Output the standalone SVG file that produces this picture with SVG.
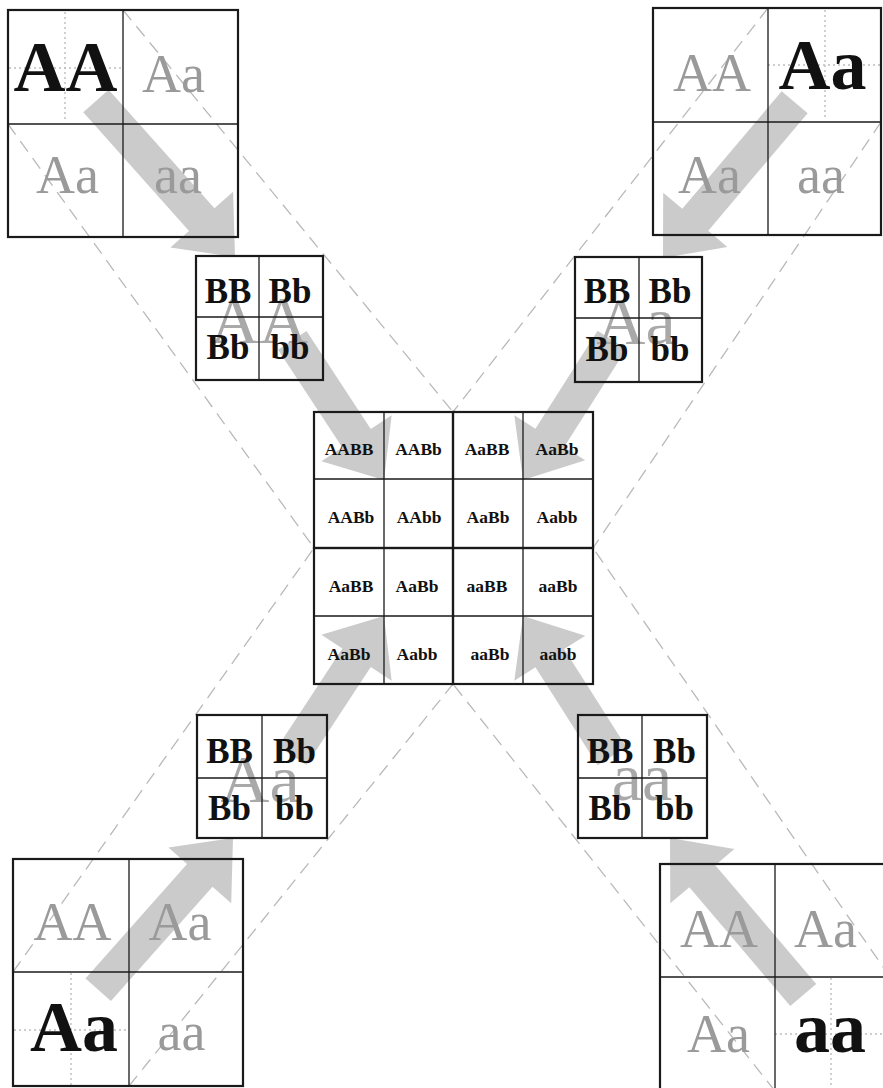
<svg xmlns="http://www.w3.org/2000/svg" width="883" height="1088" viewBox="0 0 883 1088">
  <style>
    .arrow { fill: #cbcbcb; }
    .guide { fill: none; stroke: #b9b9b9; stroke-width: 1.3; stroke-dasharray: 13 8; }
    .dot { fill: none; stroke: #bdbdbd; stroke-width: 1.4; stroke-dasharray: 2 3; }
    .frame { fill: none; stroke: #1a1a1a; stroke-width: 2.2; }
    .div { fill: none; stroke: #1a1a1a; stroke-width: 1.3; }
    .serif { font-family: "Liberation Serif", "Times New Roman", serif; text-anchor: middle; }
    .pale { font-size: 54px; fill: #9a9a9a; }
    .strong { font-size: 72px; font-weight: bold; fill: #111; }
    .ghost { font-size: 68px; fill: #a9a9a9; }
    .gam { font-size: 35px; font-weight: bold; fill: #111; }
    .cell { font-size: 17.5px; font-weight: bold; fill: #111; }
  </style>

  <rect width="883" height="1088" fill="#fff"/>

  <!-- thick gray arrows: tip at the origin, pointing along +x -->
  <g id="arrows">
    <polygon class="arrow" transform="translate(235,257) rotate(48.3)" points="0,0 -50,-42 -50,-17 -209,-17 -209,17 -50,17 -50,42"/>
    <polygon class="arrow" transform="translate(384,480) rotate(56.7)" points="0,0 -50,-42 -50,-17 -167,-17 -167,17 -50,17 -50,42"/>
    <polygon class="arrow" transform="translate(663,258) rotate(130.2)" points="0,0 -50,-42 -50,-17 -204,-17 -204,17 -50,17 -50,42"/>
    <polygon class="arrow" transform="translate(523,480) rotate(122.4)" points="0,0 -50,-42 -50,-17 -166,-17 -166,17 -50,17 -50,42"/>
    <polygon class="arrow" transform="translate(233,838) rotate(-48.4)" points="0,0 -50,-42 -50,-17 -203,-17 -203,17 -50,17 -50,42"/>
    <polygon class="arrow" transform="translate(384,616) rotate(-56.7)" points="0,0 -50,-42 -50,-17 -167,-17 -167,17 -50,17 -50,42"/>
    <polygon class="arrow" transform="translate(670,838) rotate(-130.3)" points="0,0 -50,-42 -50,-17 -206,-17 -206,17 -50,17 -50,42"/>
    <polygon class="arrow" transform="translate(523,616) rotate(-122.4)" points="0,0 -50,-42 -50,-17 -166,-17 -166,17 -50,17 -50,42"/>
  </g>

  <!-- dashed projection lines -->
  <g id="guides">
    <line class="guide" x1="123" y1="10" x2="453" y2="412"/>
    <line class="guide" x1="8" y1="124" x2="314" y2="548"/>
    <line class="guide" x1="768" y1="8" x2="453" y2="412"/>
    <line class="guide" x1="881" y1="122" x2="593" y2="548"/>
    <line class="guide" x1="13" y1="972" x2="314" y2="548"/>
    <line class="guide" x1="129" y1="1086" x2="453" y2="684"/>
    <line class="guide" x1="890" y1="977" x2="593" y2="548"/>
    <line class="guide" x1="775" y1="1091" x2="453" y2="684"/>
  </g>

  <!-- parent squares -->
  <g id="parent-tl">
    <line class="dot" x1="65" y1="12" x2="65" y2="122"/>
    <line class="dot" x1="9" y1="68" x2="123" y2="68"/>
    <rect class="frame" x="8" y="10" width="230" height="227"/>
    <line class="div" x1="123" y1="10" x2="123" y2="237"/>
    <line class="div" x1="8" y1="124" x2="238" y2="124"/>
    <text class="serif strong" x="65.5" y="91">AA</text>
    <text class="serif pale" x="173.5" y="92">Aa</text>
    <text class="serif pale" x="67.5" y="193">Aa</text>
    <text class="serif pale" x="178" y="193">aa</text>
  </g>

  <g id="parent-tr">
    <line class="dot" x1="825" y1="10" x2="825" y2="120"/>
    <line class="dot" x1="768" y1="65" x2="880" y2="65"/>
    <rect class="frame" x="653" y="8" width="228" height="227"/>
    <line class="div" x1="768" y1="8" x2="768" y2="235"/>
    <line class="div" x1="653" y1="122" x2="881" y2="122"/>
    <text class="serif pale" x="712" y="91">AA</text>
    <text class="serif strong" x="822.5" y="89">Aa</text>
    <text class="serif pale" x="709.5" y="193">Aa</text>
    <text class="serif pale" x="821" y="193">aa</text>
  </g>

  <g id="parent-bl">
    <line class="dot" x1="71" y1="973" x2="71" y2="1085"/>
    <line class="dot" x1="14" y1="1030" x2="129" y2="1030"/>
    <rect class="frame" x="13" y="859" width="230" height="227"/>
    <line class="div" x1="129" y1="859" x2="129" y2="1086"/>
    <line class="div" x1="13" y1="972" x2="243" y2="972"/>
    <text class="serif pale" x="72.5" y="940">AA</text>
    <text class="serif pale" x="180" y="940">Aa</text>
    <text class="serif strong" x="74" y="1051">Aa</text>
    <text class="serif pale" x="181.5" y="1050">aa</text>
  </g>

  <g id="parent-br">
    <line class="dot" x1="831" y1="978" x2="831" y2="1088"/>
    <line class="dot" x1="775" y1="1034" x2="883" y2="1034"/>
    <rect class="frame" x="660" y="864" width="230" height="227"/>
    <line class="div" x1="775" y1="864" x2="775" y2="1091"/>
    <line class="div" x1="660" y1="977" x2="890" y2="977"/>
    <text class="serif pale" x="719" y="947">AA</text>
    <text class="serif pale" x="825.5" y="947">Aa</text>
    <text class="serif pale" x="718.5" y="1052">Aa</text>
    <text class="serif strong" x="830" y="1052">aa</text>
  </g>

  <!-- gamete squares -->
  <g id="gamete-tl">
    <text class="serif ghost" x="259" y="343">AA</text>
    <rect class="frame" x="196" y="256" width="127" height="124"/>
    <line class="div" x1="259" y1="256" x2="259" y2="380"/>
    <line class="div" x1="196" y1="317" x2="323" y2="317"/>
    <text class="serif gam" x="228" y="303">BB</text>
    <text class="serif gam" x="290" y="303">Bb</text>
    <text class="serif gam" x="228" y="359">Bb</text>
    <text class="serif gam" x="290" y="359">bb</text>
  </g>

  <g id="gamete-tr">
    <text class="serif ghost" x="636" y="344">Aa</text>
    <rect class="frame" x="575" y="257" width="127" height="125"/>
    <line class="div" x1="639" y1="257" x2="639" y2="382"/>
    <line class="div" x1="575" y1="318" x2="702" y2="318"/>
    <text class="serif gam" x="607" y="303">BB</text>
    <text class="serif gam" x="670" y="303">Bb</text>
    <text class="serif gam" x="607" y="361">Bb</text>
    <text class="serif gam" x="670" y="361">bb</text>
  </g>

  <g id="gamete-bl">
    <text class="serif ghost" x="260" y="802">Aa</text>
    <rect class="frame" x="197" y="715" width="130" height="123"/>
    <line class="div" x1="262" y1="715" x2="262" y2="838"/>
    <line class="div" x1="197" y1="778" x2="327" y2="778"/>
    <text class="serif gam" x="229.5" y="763">BB</text>
    <text class="serif gam" x="294.5" y="763">Bb</text>
    <text class="serif gam" x="229.5" y="820">Bb</text>
    <text class="serif gam" x="294.5" y="820">bb</text>
  </g>

  <g id="gamete-br">
    <text class="serif ghost" x="642" y="800">aa</text>
    <rect class="frame" x="578" y="715" width="129" height="123"/>
    <line class="div" x1="642" y1="715" x2="642" y2="838"/>
    <line class="div" x1="578" y1="778" x2="707" y2="778"/>
    <text class="serif gam" x="610" y="763">BB</text>
    <text class="serif gam" x="674.5" y="763">Bb</text>
    <text class="serif gam" x="610" y="820">Bb</text>
    <text class="serif gam" x="674.5" y="820">bb</text>
  </g>

  <!-- offspring grid -->
  <g id="offspring">
    <line class="div" x1="384" y1="412" x2="384" y2="684"/>
    <line class="div" x1="523" y1="412" x2="523" y2="684"/>
    <line class="div" x1="314" y1="479" x2="593" y2="479"/>
    <line class="div" x1="314" y1="616" x2="593" y2="616"/>
    <rect class="frame" x="314" y="412" width="139" height="136"/>
    <rect class="frame" x="453" y="412" width="140" height="136"/>
    <rect class="frame" x="314" y="548" width="139" height="136"/>
    <rect class="frame" x="453" y="548" width="140" height="136"/>

    <text class="serif cell" x="349" y="455">AABB</text>
    <text class="serif cell" x="418.5" y="455">AABb</text>
    <text class="serif cell" x="487" y="455">AaBB</text>
    <text class="serif cell" x="557" y="455">AaBb</text>

    <text class="serif cell" x="351" y="523">AABb</text>
    <text class="serif cell" x="419" y="523">AAbb</text>
    <text class="serif cell" x="488" y="523">AaBb</text>
    <text class="serif cell" x="557" y="523">Aabb</text>

    <text class="serif cell" x="351" y="592">AaBB</text>
    <text class="serif cell" x="417" y="592">AaBb</text>
    <text class="serif cell" x="487" y="592">aaBB</text>
    <text class="serif cell" x="558" y="592">aaBb</text>

    <text class="serif cell" x="349" y="660">AaBb</text>
    <text class="serif cell" x="417" y="660">Aabb</text>
    <text class="serif cell" x="490" y="660">aaBb</text>
    <text class="serif cell" x="558" y="660">aabb</text>
  </g>
</svg>
